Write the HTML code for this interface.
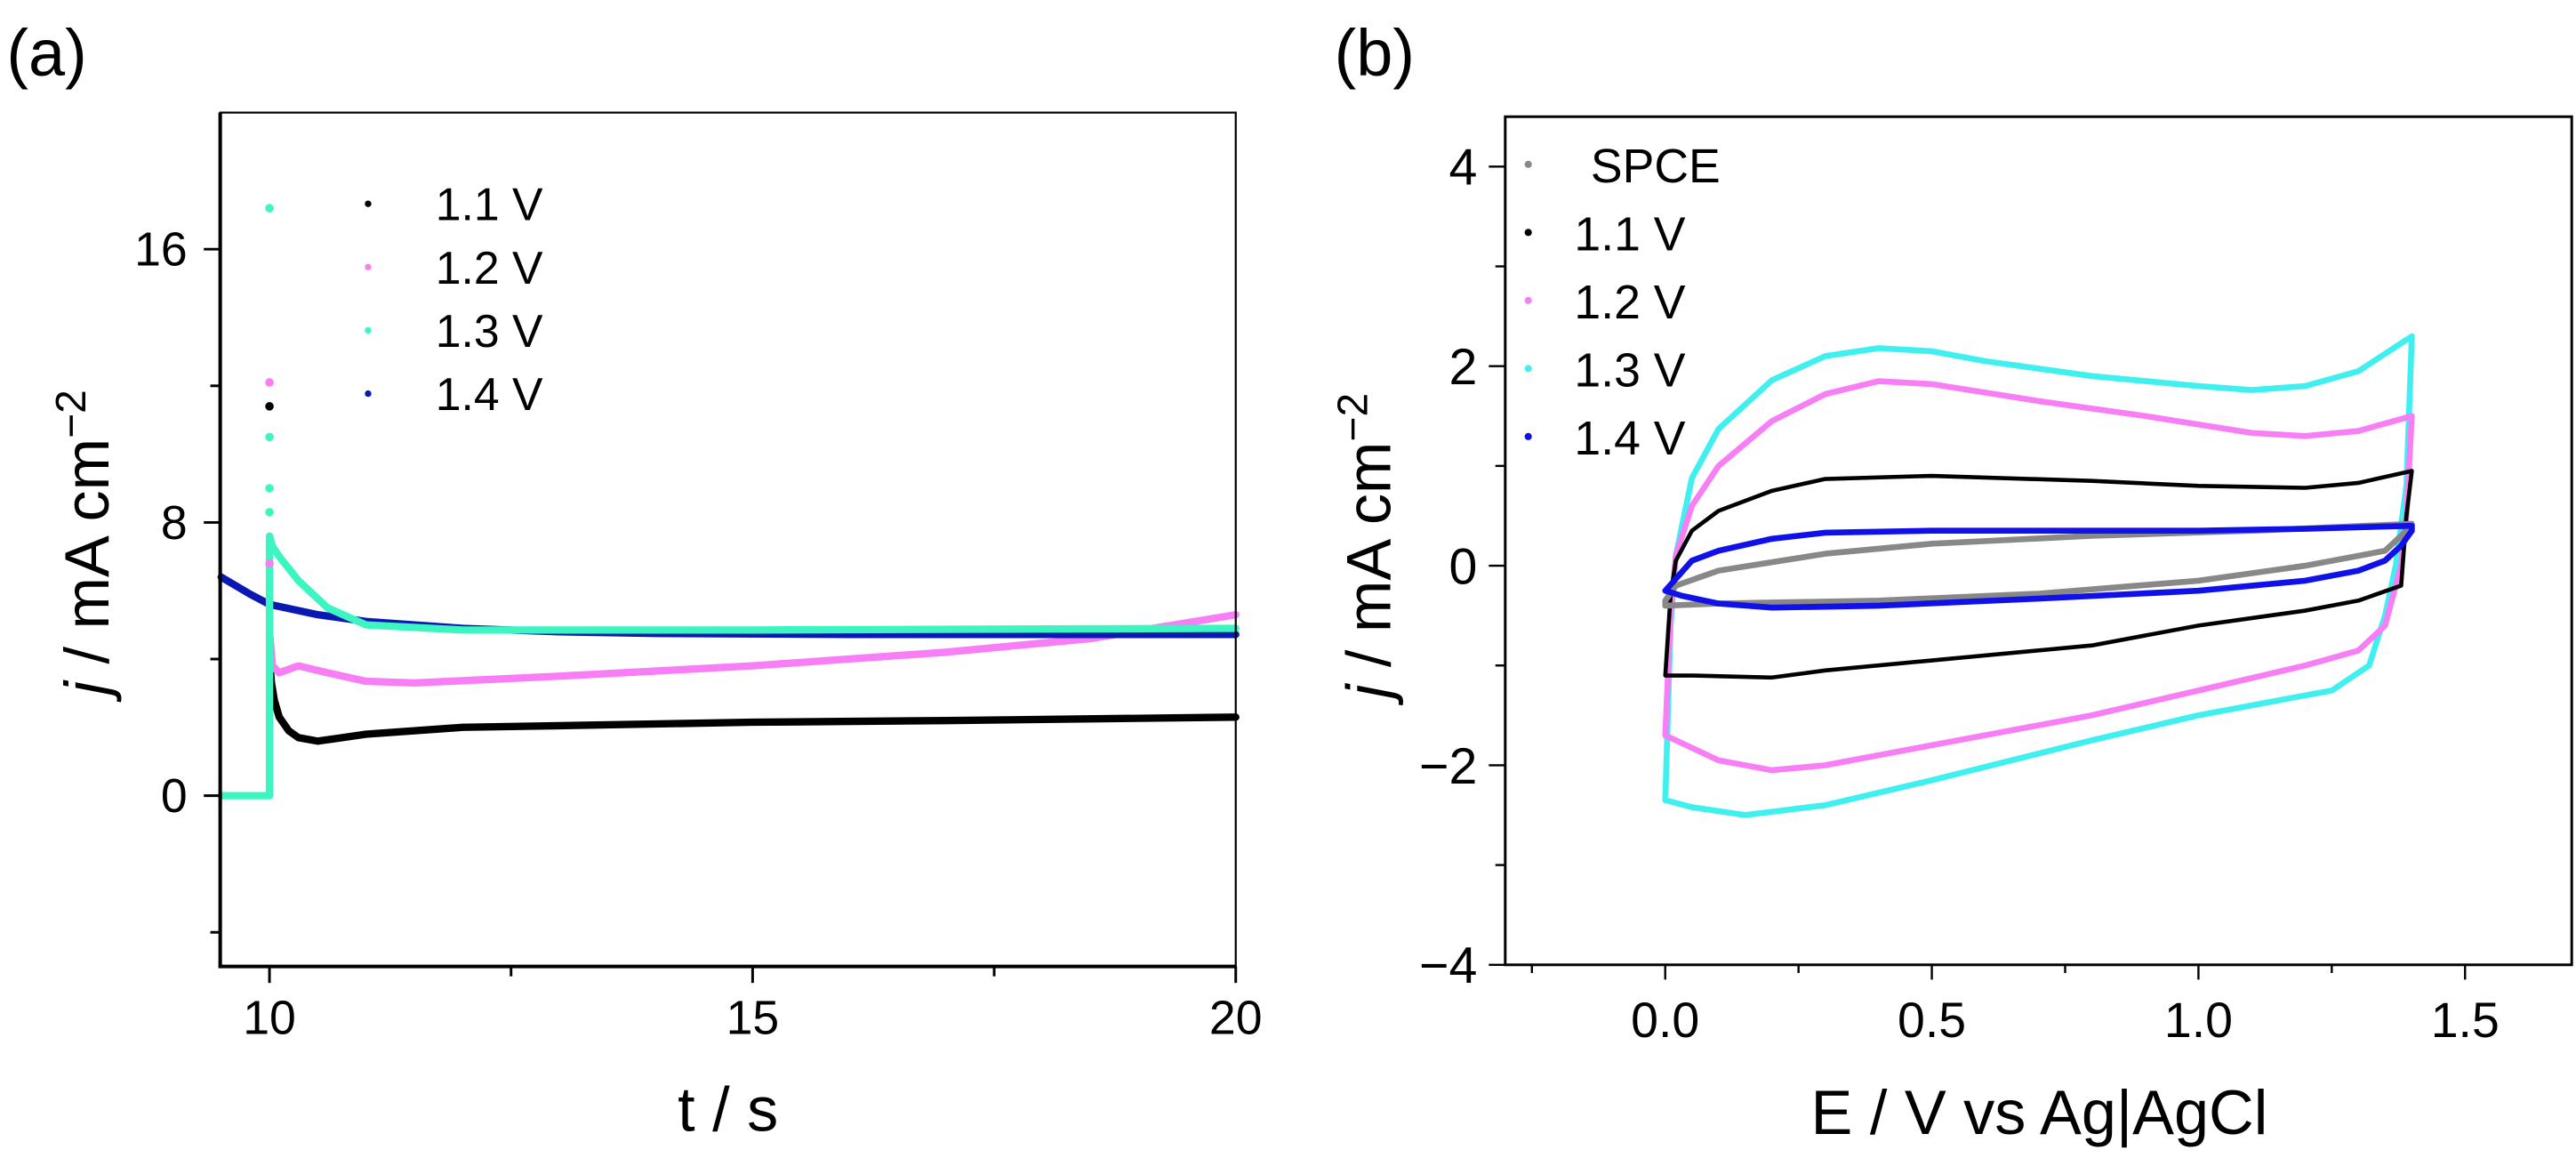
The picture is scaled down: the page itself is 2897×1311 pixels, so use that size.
<!DOCTYPE html>
<html><head><meta charset="utf-8"><style>
html,body{margin:0;padding:0;background:#fff}
svg{display:block;font-family:"Liberation Sans",Arial,sans-serif}
</style></head><body>
<svg id="fig" width="2897" height="1311" viewBox="0 0 1567.6 709.4" xmlns="http://www.w3.org/2000/svg">
<text x="4" y="46" font-size="40">(a)</text>
<text x="812" y="46" font-size="40">(b)</text>
<g id="pa"></g>
<g id="pb"></g>
<text x="443" y="688" font-size="38" text-anchor="middle">t / s</text>
<text x="1241" y="690" font-size="38" text-anchor="middle">E / V vs Ag|AgCl</text>
<text transform="translate(66,330) rotate(-90)" font-size="38" text-anchor="middle"><tspan font-style="italic">j</tspan> / mA cm<tspan dy="-14" font-size="26">−2</tspan></text>
<text transform="translate(846,332) rotate(-90)" font-size="38" text-anchor="middle"><tspan font-style="italic">j</tspan> / mA cm<tspan dy="-14" font-size="26">−2</tspan></text>
</svg>
<script>
// ---- Panel (a) data ----
const aXTicks = [10, 15, 20];
const aXMinor = [12.5, 17.5];
const aYTicks = [0, 8, 16];
const aYMinor = [-4, 4, 12];
const aSeriesNames = ["1.1 V", "1.2 V", "1.3 V", "1.4 V"];
const aColors = ["#000000", "#f77ef5", "#3cf5c0", "#0a1ab0"];
const t11 = [10.0, 10.02, 10.05, 10.1, 10.2, 10.3, 10.5, 11, 12, 13, 15, 17, 20];
const j11 = [4.0, 3.3, 2.8, 2.3, 1.9, 1.7, 1.6, 1.8, 2.0, 2.05, 2.15, 2.2, 2.3];
const t12 = [10.0, 10.03, 10.1, 10.3, 10.6, 11, 11.5, 13, 15, 17, 18.5, 20];
const j12 = [4.8, 3.8, 3.6, 3.8, 3.6, 3.35, 3.3, 3.5, 3.8, 4.2, 4.6, 5.3];
const t13 = [9.5, 10.0, 10.0, 10.03, 10.1, 10.3, 10.6, 11, 12, 15, 20];
const j13 = [0, 0, 7.6, 7.3, 7.0, 6.3, 5.5, 5.0, 4.85, 4.85, 4.9];
const t14 = [9.5, 9.8, 10, 10.5, 11, 12, 13, 14, 16, 20];
const j14 = [6.4, 5.9, 5.6, 5.3, 5.1, 4.9, 4.8, 4.75, 4.72, 4.72];
const spikeT = [10.0, 10.0, 10.0, 10.0, 10.0, 10.0, 10.0];
const spikeJ = [17.2, 12.1, 11.4, 10.5, 9.0, 8.3, 6.8];
const spikeSeries = [2, 1, 0, 2, 2, 2, 1];
// ---- Panel (b) data ----
const bXTicks = [0.0, 0.5, 1.0, 1.5];
const bXTickLabels = ["0.0", "0.5", "1.0", "1.5"];
const bXMinor = [-0.25, 0.25, 0.75, 1.25];
const bYTicks = [-4, -2, 0, 2, 4];
const bYTickLabels = ["\u22124", "\u22122", "0", "2", "4"];
const bYMinor = [-3, -1, 1, 3];
const bNames = ["SPCE", "1.1 V", "1.2 V", "1.3 V", "1.4 V"];
const bColors = ["#888888", "#000000", "#f77ef5", "#40f0f0", "#1010e8"];
const eSPCE = [0, 0.02, 0.1, 0.3, 0.5, 0.8, 1.1, 1.4, 1.4, 1.35, 1.2, 1.0, 0.7, 0.4, 0.1, 0];
const jSPCE = [-0.35, -0.2, -0.05, 0.12, 0.22, 0.3, 0.35, 0.42, 0.4, 0.15, 0.0, -0.15, -0.28, -0.35, -0.38, -0.4];
const e11 = [0, 0.01, 0.02, 0.05, 0.1, 0.2, 0.3, 0.5, 0.8, 1.0, 1.2, 1.3, 1.4, 1.39, 1.38, 1.3, 1.2, 1.0, 0.8, 0.5, 0.3, 0.2, 0.05, 0.01, 0];
const j11b = [-1.1, -0.3, 0.05, 0.35, 0.55, 0.75, 0.87, 0.9, 0.85, 0.8, 0.78, 0.83, 0.95, 0.5, -0.2, -0.35, -0.45, -0.6, -0.8, -0.95, -1.05, -1.12, -1.1, -1.1, -1.1];
const e12 = [0, 0.01, 0.02, 0.05, 0.1, 0.2, 0.3, 0.4, 0.5, 0.7, 0.9, 1.1, 1.2, 1.3, 1.4, 1.39, 1.38, 1.35, 1.3, 1.2, 1.0, 0.8, 0.5, 0.3, 0.2, 0.1, 0];
const j12b = [-1.7, -0.5, 0.1, 0.6, 1.0, 1.45, 1.72, 1.85, 1.82, 1.65, 1.5, 1.33, 1.3, 1.35, 1.5, 0.5, 0.0, -0.6, -0.85, -1.0, -1.25, -1.5, -1.8, -2.0, -2.05, -1.95, -1.7];
const e13 = [0, 0.01, 0.02, 0.05, 0.1, 0.2, 0.3, 0.4, 0.5, 0.6, 0.8, 1.0, 1.1, 1.2, 1.3, 1.4, 1.39, 1.37, 1.35, 1.32, 1.25, 1.2, 1.0, 0.8, 0.5, 0.3, 0.15, 0.05, 0];
const j13b = [-2.35, -0.6, 0.1, 0.88, 1.37, 1.86, 2.1, 2.18, 2.15, 2.05, 1.9, 1.8, 1.76, 1.8, 1.95, 2.3, 0.8, 0.0, -0.5, -1.0, -1.25, -1.3, -1.5, -1.75, -2.15, -2.4, -2.5, -2.42, -2.35];
const e14 = [0, 0.05, 0.1, 0.2, 0.3, 0.5, 0.8, 1.0, 1.2, 1.4, 1.4, 1.38, 1.35, 1.3, 1.2, 1.0, 0.7, 0.4, 0.2, 0.1, 0.03, 0];
const j14b = [-0.25, 0.05, 0.15, 0.27, 0.33, 0.35, 0.35, 0.35, 0.37, 0.4, 0.35, 0.2, 0.05, -0.05, -0.15, -0.25, -0.33, -0.4, -0.42, -0.38, -0.3, -0.25];

const NS = "http://www.w3.org/2000/svg";
function mk(parent, tag, attrs, text) {
  const el = document.createElementNS(NS, tag);
  for (const k in attrs) el.setAttribute(k, attrs[k]);
  if (text !== undefined) el.textContent = text;
  parent.appendChild(el);
  return el;
}
function lin(d0, d1, r0, r1) { return v => r0 + (v - d0) * (r1 - r0) / (d1 - d0); }

// ===== Panel A =====
const pa = document.getElementById('pa');
const aL = 134, aR = 752, aT = 68.5, aB = 588;
const ax = lin(9.49, 20, aL, aR), ay = lin(-5, 20, aB, aT);
function aPath(ts, js) { return ts.map((t, i) => (i ? 'L' : 'M') + ax(t).toFixed(1) + ',' + ay(js[i]).toFixed(1)).join(''); }
const aData = [[t11, j11], [t12, j12], [t13, j13], [t14, j14]];
const aOrder = [0, 1, 3, 2];
aOrder.forEach(i => {
  const p = mk(pa, 'path', { d: aPath(aData[i][0], aData[i][1]), fill: 'none', stroke: aColors[i], 'stroke-width': 4.5, 'stroke-linejoin': 'round', 'stroke-linecap': 'round' });
  
  
});
spikeT.forEach((t, i) => {
  const c = mk(pa, 'circle', { cx: ax(t), cy: ay(spikeJ[i]), r: 2.6, fill: aColors[spikeSeries[i]] });
  
  
});
const aFrame = mk(pa, 'rect', { x: aL, y: aT, width: aR - aL, height: aB - aT, fill: 'none', stroke: '#000', 'stroke-width': 1.2 });


const aAxL = mk(pa, 'line', { x1: aL, y1: aT, x2: aL, y2: aB + 1, stroke: '#000', 'stroke-width': 2.2 });


const aAxB = mk(pa, 'line', { x1: aL - 1, y1: aB, x2: aR, y2: aB, stroke: '#000', 'stroke-width': 2.2 });


aXTicks.forEach(v => {
  mk(pa, 'line', { x1: ax(v), y1: aB, x2: ax(v), y2: aB + 10, stroke: '#000', 'stroke-width': 1.6 });
  const tx = mk(pa, 'text', { x: ax(v), y: 629, 'font-size': 29, 'text-anchor': 'middle' }, String(v));
  
  
});
aXMinor.forEach(v => mk(pa, 'line', { x1: ax(v), y1: aB, x2: ax(v), y2: aB + 6, stroke: '#000', 'stroke-width': 1.6 }));
aYTicks.forEach(v => {
  mk(pa, 'line', { x1: aL - 10, y1: ay(v), x2: aL, y2: ay(v), stroke: '#000', 'stroke-width': 1.6 });
  const tx = mk(pa, 'text', { x: 114, y: ay(v) + 10, 'font-size': 29, 'text-anchor': 'end' }, String(v));
  
  
});
aYMinor.forEach(v => mk(pa, 'line', { x1: aL - 6, y1: ay(v), x2: aL, y2: ay(v), stroke: '#000', 'stroke-width': 1.6 }));
aSeriesNames.forEach((n, i) => {
  const y = 124 + i * 38.5;
  const m = mk(pa, 'circle', { cx: 224, cy: y, r: 2, fill: aColors[i] });
  
  
  const tx = mk(pa, 'text', { x: 265, y: y + 10, 'font-size': 28 }, n);
  
  
});

// ===== Panel B =====
const pb = document.getElementById('pb');
const bL = 916, bR = 1565, bT = 71, bB = 587;
const bx = lin(-0.3, 1.7, bL, bR), by = lin(-4, 4.5, bB, bT);
function bPath(es, js) { return es.map((e, i) => (i ? 'L' : 'M') + bx(e).toFixed(1) + ',' + by(js[i]).toFixed(1)).join('') + 'Z'; }
const bData = [[eSPCE, jSPCE], [e11, j11b], [e12, j12b], [e13, j13b], [e14, j14b]];
const bOrder = [3, 2, 1, 0, 4];
bOrder.forEach(i => {
  const p = mk(pb, 'path', { d: bPath(bData[i][0], bData[i][1]), fill: 'none', stroke: bColors[i], 'stroke-width': i === 1 ? 2.5 : 3.6, 'stroke-linejoin': 'round' });
  
  
});
const bFrame = mk(pb, 'rect', { x: bL, y: bT, width: bR - bL, height: bB - bT, fill: 'none', stroke: '#000', 'stroke-width': 1.6 });


bXTicks.forEach((v, i) => {
  mk(pb, 'line', { x1: bx(v), y1: bB, x2: bx(v), y2: bB + 9, stroke: '#000', 'stroke-width': 1.3 });
  const tx = mk(pb, 'text', { x: bx(v), y: 631, 'font-size': 30, 'text-anchor': 'middle' }, bXTickLabels[i]);
  
  
});
bXMinor.forEach(v => mk(pb, 'line', { x1: bx(v), y1: bB, x2: bx(v), y2: bB + 5, stroke: '#000', 'stroke-width': 1.3 }));
bYTicks.forEach((v, i) => {
  mk(pb, 'line', { x1: bL - 10, y1: by(v), x2: bL, y2: by(v), stroke: '#000', 'stroke-width': 1.3 });
  const tx = mk(pb, 'text', { x: 899, y: by(v) + 11, 'font-size': 31, 'text-anchor': 'end' }, bYTickLabels[i]);
  
  
});
bYMinor.forEach(v => mk(pb, 'line', { x1: bL - 6, y1: by(v), x2: bL, y2: by(v), stroke: '#000', 'stroke-width': 1.3 }));
bNames.forEach((n, i) => {
  const y = 100 + i * 41.4;
  const m = mk(pb, 'circle', { cx: 930, cy: y, r: 2.2, fill: bColors[i] });
  
  
  const tx = mk(pb, 'text', { x: i === 0 ? 968 : 958, y: y + 11, 'font-size': 29 }, n);
  
  
});
</script>
</body></html>
